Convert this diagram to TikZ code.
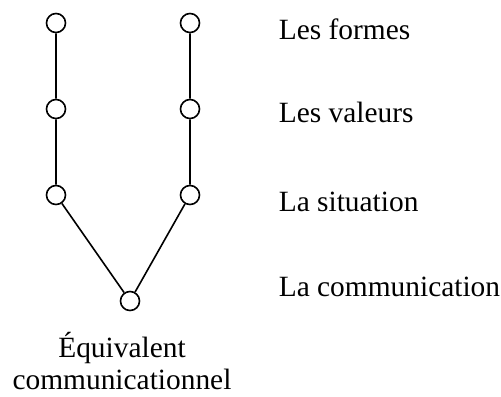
\documentclass[tikz,border=0pt]{standalone}
\usepackage{fontspec}
\setmainfont{Liberation Serif}
\usetikzlibrary{positioning}

\tikzset{
    knot/.style = {draw, circle, fill=white, minimum size=9.5pt, inner sep=0pt},
    level/.style = {anchor=base west, inner sep=0pt}
}

\begin{document}
\begin{tikzpicture}[x=0.5pt, y=-0.5pt, line width=0.8pt,
                    font=\fontsize{14.7}{16}\selectfont]
    \useasboundingbox (0,0) rectangle (501,396);
    \node [knot] (L1) at (56,23) {};
    \node [knot] (L2) at (56,109) {};
    \node [knot] (L3) at (56,195) {};
    \node [knot] (R1) at (190,23) {};
    \node [knot] (R2) at (190,109) {};
    \node [knot] (R3) at (190,195) {};
    \node [knot] (B) at (130,301) {};
    \draw (L1) -- (L2) -- (L3) -- (B);
    \draw (R1) -- (R2) -- (R3) -- (B);
    \node [level] (formes) at (278,39) {Les formes};
    \node [level] (valeurs) at (278,122) {Les valeurs};
    \node [level] (situation) at (278,211) {La situation};
    \node [level] (comm) at (278,296) {La communication};
    \node [anchor=base, align=center, inner sep=0pt] (equiv) at (122,389)
        {Équivalent\\communicationnel};
\end{tikzpicture}
\end{document}
